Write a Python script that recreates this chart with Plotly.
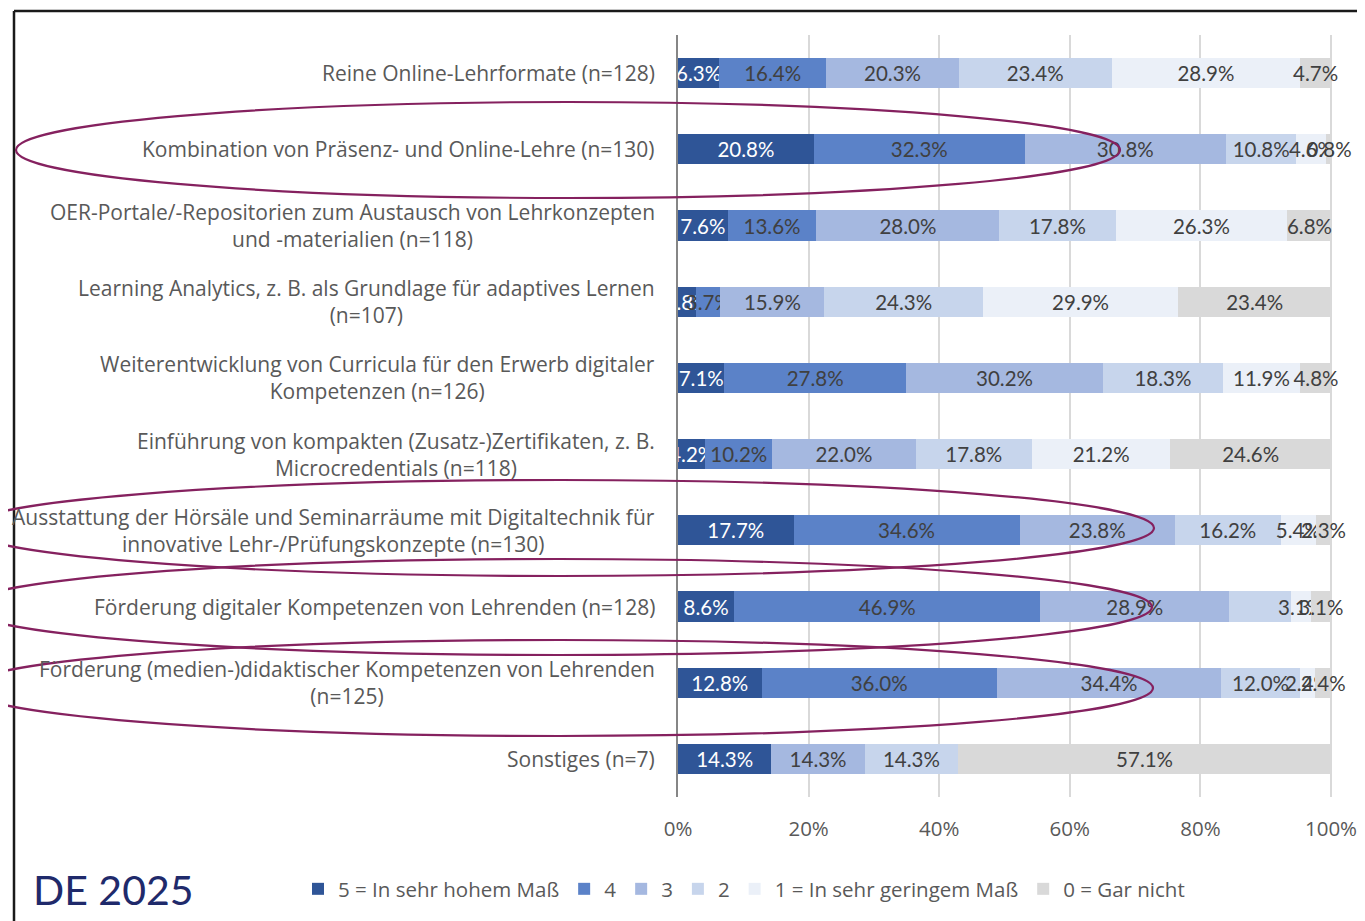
import plotly.graph_objects as go

# ---------------- data ----------------
categories = [
    "Reine Online-Lehrformate (n=128)",
    "Kombination von Präsenz- und Online-Lehre (n=130)",
    "OER-Portale/-Repositorien zum Austausch von Lehrkonzepten<br>und -materialien (n=118)",
    "Learning Analytics, z. B. als Grundlage für adaptives Lernen<br>(n=107)",
    "Weiterentwicklung von Curricula für den Erwerb digitaler<br>Kompetenzen (n=126)",
    "Einführung von kompakten (Zusatz-)Zertifikaten, z. B.<br>Microcredentials (n=118)",
    "Ausstattung der Hörsäle und Seminarräume mit Digitaltechnik für<br>innovative Lehr-/Prüfungskonzepte (n=130)",
    "Förderung digitaler Kompetenzen von Lehrenden (n=128)",
    "Förderung (medien-)didaktischer Kompetenzen von Lehrenden<br>(n=125)",
    "Sonstiges (n=7)",
]

series_names = ["5 = In sehr hohem Maß", "4", "3", "2", "1 = In sehr geringem Maß", "0 = Gar nicht"]
s5 = [6.3, 20.8, 7.6, 2.8, 7.1, 4.2, 17.7, 8.6, 12.8, 14.3]
s4 = [16.4, 32.3, 13.6, 3.7, 27.8, 10.2, 34.6, 46.9, 36.0, 0.0]
s3 = [20.3, 30.8, 28.0, 15.9, 30.2, 22.0, 23.8, 28.9, 34.4, 14.3]
s2 = [23.4, 10.8, 17.8, 24.3, 18.3, 17.8, 16.2, 9.4, 12.0, 14.3]
s1 = [28.9, 4.6, 26.3, 29.9, 11.9, 21.2, 5.4, 3.1, 2.4, 0.0]
s0 = [4.7, 0.8, 6.8, 23.4, 4.8, 24.6, 2.3, 3.1, 2.4, 57.1]
series_values = [s5, s4, s3, s2, s1, s0]
# data labels that are not shown in the original (series index, row index)
hidden_labels = {(3, 7)}

x_ticks = [0, 20, 40, 60, 80, 100]
x_tick_labels = ["0%", "20%", "40%", "60%", "80%", "100%"]

# ---------------- style ----------------
colors = ["#2F5597", "#5B82C8", "#A5B8E0", "#C7D5EC", "#EBF0F8", "#D9D9D9"]
text_colors = ["#FFFFFF", "#404040", "#404040", "#404040", "#404040", "#404040"]
LABEL_FONT = "Lato"
TEXT_FONT = "Open Sans"
GREY = "#595959"

OFF = 8                       # page body margin
W, H = 1365 - OFF, 921 - OFF  # figure size
# plot area in screen pixels (the 0..100 % span ends at 1331)
SL, SR, ST, SB = 678, 1365, 35, 797
X_AT_SR = 100 * (SR - SL) / (1331 - SL)


def px_x(p):
    return (p - SL) / (SR - SL)


def px_y(p):
    return (SB - p) / (SB - ST)


fig = go.Figure()
for i, (name, vals) in enumerate(zip(series_names, series_values)):
    texts = []
    for j, v in enumerate(vals):
        if v <= 0 or (i, j) in hidden_labels:
            texts.append("")
        else:
            texts.append(f"{v:.1f}%")
    fig.add_trace(go.Bar(
        y=categories, x=vals, name=name, orientation="h",
        marker=dict(color=colors[i], line=dict(width=0)),
        text=texts, texttemplate="%{text}", textposition="inside",
        insidetextanchor="middle", textangle=0, constraintext="none",
        textfont=dict(family=LABEL_FONT, size=20.5, color=text_colors[i]),
        hoverinfo="x+y+name", cliponaxis=True,
    ))

# category labels (centered multi-line, right anchored)
annotations = []
for c in categories:
    annotations.append(dict(
        x=0, xref="paper", y=c, yref="y", text=c, showarrow=False,
        xanchor="right", yanchor="middle", align="center", xshift=-21,
        font=dict(family=TEXT_FONT, size=21, color=GREY),
    ))
annotations.append(dict(
    x=px_x(113), xref="paper", y=px_y(889), yref="paper", text="DE 2025",
    showarrow=False, xanchor="center", yanchor="middle",
    font=dict(family=LABEL_FONT, size=41, color="#1F2A6B"),
))

shapes = []
# frame lines (left and top)
shapes.append(dict(type="line", xref="paper", yref="paper",
                   x0=px_x(14), x1=px_x(14), y0=px_y(11), y1=px_y(930),
                   line=dict(color="#1A1A1A", width=2.5)))
shapes.append(dict(type="line", xref="paper", yref="paper",
                   x0=px_x(14), x1=px_x(1370), y0=px_y(11), y1=px_y(11),
                   line=dict(color="#1A1A1A", width=2.5)))
# highlight ellipses (screen pixel boxes: left, right, top, bottom)
ellipses = [
    (16, 1120, 102, 198),
    (-34, 1154, 480, 576),
    (-35, 1152, 559, 655),
    (-34, 1153, 640, 736),
]
for l, r, t, b in ellipses:
    shapes.append(dict(type="circle", xref="paper", yref="paper",
                       x0=px_x(l), x1=px_x(r), y0=px_y(b), y1=px_y(t),
                       line=dict(color="#85215F", width=2.2),
                       fillcolor="rgba(0,0,0,0)", layer="above"))

fig.update_layout(
    width=W, height=H,
    margin=dict(l=SL - OFF, r=W - (SR - OFF), t=ST - OFF, b=H - (SB - OFF), pad=0),
    barmode="stack", bargap=0.606,
    plot_bgcolor="white", paper_bgcolor="white",
    font=dict(family=TEXT_FONT, color=GREY, size=19),
    xaxis=dict(range=[0, X_AT_SR], tickvals=x_ticks, ticktext=x_tick_labels,
               showgrid=True, gridcolor="#D9D9D9", gridwidth=2,
               zeroline=False, showline=False, ticks="",
               ticklabelstandoff=17,
               tickfont=dict(family=TEXT_FONT, size=20.5, color=GREY), fixedrange=True),
    yaxis=dict(categoryorder="array", categoryarray=categories,
               autorange="reversed", showticklabels=False, showgrid=False,
               zeroline=False, showline=True, linecolor="#868686", linewidth=2,
               ticks="", fixedrange=True),
    legend=dict(orientation="h", x=px_x(298), xanchor="left",
                y=px_y(889), yanchor="middle", traceorder="normal",
                font=dict(family=TEXT_FONT, size=20.5, color=GREY),
                bgcolor="rgba(0,0,0,0)", itemclick=False, itemdoubleclick=False),
    annotations=annotations,
    shapes=shapes,
    showlegend=True,
)

fig.write_html("out.html")
